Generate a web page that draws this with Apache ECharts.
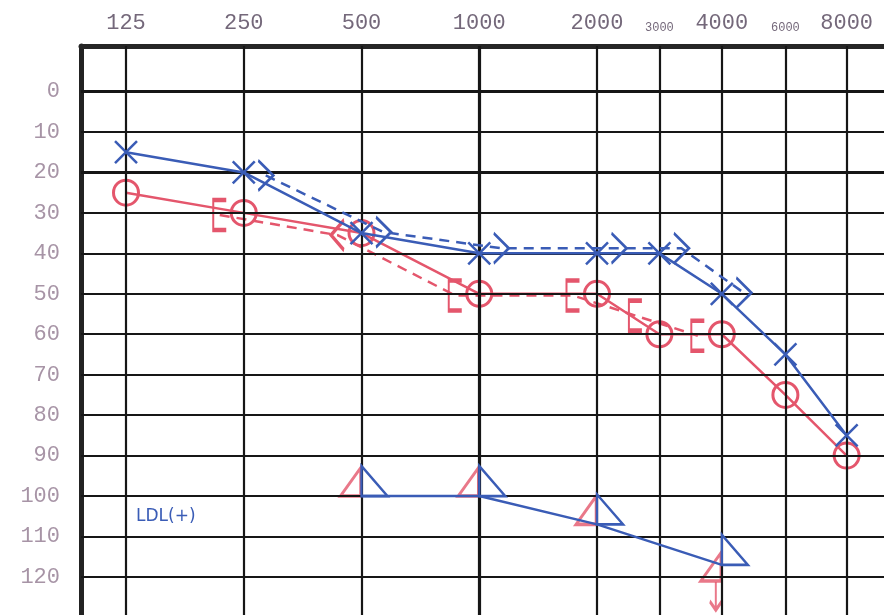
<!DOCTYPE html>
<html><head><meta charset="utf-8">
<script src="https://cdn.jsdelivr.net/npm/echarts@6/dist/echarts.min.js"></script>
<style>html,body{margin:0;padding:0;background:#fff}#c{width:884px;height:615px}</style>
</head><body><div id="c"></div>
<script>
// ---- data ----
const freqLabels  = ['125','250','500','1000','2000','3000','4000','6000','8000'];
const freqPos     = [0, 1, 2, 3, 4, 4.53, 5.06, 5.6, 6.12];  // column positions on the printed form
const smallLabels = ['3000','6000'];
const dbTicks     = [0,10,20,30,40,50,60,70,80,90,100,110,120];
const blueAC      = [15, 20, 35, 40, 40, 40, 50, 65, 85];   // X
const redAC       = [25, 30, 35, 50, 50, 60, 60, 75, 90];   // O
const bcFreqs     = ['250','500','1000','2000','3000','4000'];
const blueBC      = [21, 35, 39, 39, 39, 50];               // >
const redBC       = [30, 35, 50, 50, 55, 60];               // [
const ldlFreqs    = ['500','1000','2000','4000'];
const blueLDL     = [100, 100, 107, 117];
const redLDL      = [100, 100, 107, 121];
const noRespFreqs = ['4000'];
const noRespRed   = [121];

const BLUE = '#3a5cb6', RED = '#e4566c', INK = '#161616';
const pos = f => freqPos[freqLabels.indexOf(f)];
const pts = (freqs, vals) => freqs.map((f, i) => [pos(f), vals[i]]);

// pixel geometry of the form
const GL = 81, GT = 46, W = 803, H = 569;
const XMIN = -0.3822, XMAX = 6.4374, YMIN = -11.25, YMAX = 129.4;
const PXU = W / (XMAX - XMIN);          // pixels per x unit
const SHIFT_B = 22, SHIFT_R = 24;       // symbol offsets of bone-conduction marks

const chart = echarts.init(document.getElementById('c'), null, {renderer: 'canvas'});
const hiddenX = (gi, mn, mx) => ({gridIndex: gi, type: 'value', min: mn, max: mx, show: false});
const hiddenY = gi => ({gridIndex: gi, type: 'value', min: YMIN, max: YMAX, inverse: true, show: false});

const symX = 'path://M0,0L10,10M10,0L0,10';
const symGt = 'path://M0,0L10,5L0,10';
const symLt = 'path://M10,0L0,5L10,10';
const symBr = 'path://M10,0L0,0L0,10L10,10';
const triBlue = 'path://M0,0L0,30L26,30Z';
const triRed = 'path://M20,0L20,28L0,28Z';
const arrow = 'path://M6,0L6,26M0,18L6,26L12,18';

chart.setOption({
  animation: false,
  backgroundColor: '#fff',
  grid: [
    {left: GL, top: GT, width: W, height: H},
    {left: GL + SHIFT_B, top: GT - 1, width: W - SHIFT_B, height: H},
    {left: GL, top: GT + 3, width: W, height: H}
  ],
  xAxis: [
    {gridIndex: 0, type: 'value', position: 'top', min: XMIN, max: XMAX,
     axisLine: {show: true, onZero: false, lineStyle: {color: '#262626', width: 5}},
     axisTick: {show: false}, splitLine: {show: false},
     axisLabel: {customValues: freqPos, margin: 12, color: '#74687a',
       fontFamily: 'Liberation Mono', fontSize: 22,
       formatter: v => {
         const i = freqPos.indexOf(v);
         if (i < 0) return '';
         const t = freqLabels[i];
         return smallLabels.indexOf(t) >= 0 ? '{s|' + t + '}' : t;
       },
       rich: {s: {fontSize: 12, fontFamily: 'Liberation Mono', color: '#74687a', padding: [8, 0, 0, 0]}}
     }},
    hiddenX(1, XMIN, XMAX - SHIFT_B / PXU),
    hiddenX(2, XMIN + SHIFT_R / PXU, XMAX + SHIFT_R / PXU)
  ],
  yAxis: [
    {gridIndex: 0, type: 'value', inverse: true, min: YMIN, max: YMAX,
     axisLine: {show: true, onZero: false, lineStyle: {color: '#222', width: 5}},
     axisTick: {show: false},
     splitLine: {show: false},
     axisLabel: {customValues: dbTicks, margin: 21, color: '#a794a6',
       fontFamily: 'Liberation Mono', fontSize: 22,
       formatter: v => dbTicks.indexOf(v) >= 0 ? String(v) : ''}},
    hiddenY(1), hiddenY(2)
  ],
  graphic: [
    {type: 'text', left: 136, top: 508, style: {text: 'LDL(+)', fill: BLUE, font: '17px "DejaVu Sans"'}}
  ],
  series: [
    {type: 'line', xAxisIndex: 0, yAxisIndex: 0, data: [], silent: true,
     markLine: {silent: true, symbol: 'none', label: {show: false}, animation: false,
       data: freqPos.map(p => ({xAxis: p, lineStyle: {color: INK, type: 'solid', width: p === 3 ? 3.2 : 2.2}}))
         .concat(dbTicks.map(d => ({yAxis: d, lineStyle: {color: INK, type: 'solid', width: (d === 0 || d === 20) ? 3.2 : 2.2}})))}},
    {name: 'blueAC', type: 'line', xAxisIndex: 0, yAxisIndex: 0, z: 5,
     data: pts(freqLabels, blueAC), symbol: symX, symbolSize: 22,
     lineStyle: {color: BLUE, width: 2.5},
     itemStyle: {color: 'none', borderColor: BLUE, borderWidth: 2.5}},
    {name: 'redAC', type: 'line', xAxisIndex: 0, yAxisIndex: 0, z: 4,
     data: pts(freqLabels, redAC), symbol: 'circle', symbolSize: 25,
     lineStyle: {color: RED, width: 2.5},
     itemStyle: {color: 'none', borderColor: RED, borderWidth: 3}},
    {name: 'blueBC', type: 'line', xAxisIndex: 1, yAxisIndex: 1, z: 5,
     data: pts(bcFreqs, blueBC), symbol: symGt, symbolSize: [15, 30],
     lineStyle: {color: BLUE, width: 2.5, type: [10, 7]},
     itemStyle: {color: 'none', borderColor: BLUE, borderWidth: 2.5}},
    {name: 'redBC', type: 'line', xAxisIndex: 2, yAxisIndex: 2, z: 4,
     data: pts(bcFreqs, redBC).map((d, i) => ({value: d, symbol: bcFreqs[i] === '500' ? symLt : symBr})),
     symbolSize: [13, 30],
     lineStyle: {color: RED, width: 2.5, type: [10, 7]},
     itemStyle: {color: 'none', borderColor: RED, borderWidth: 3}},
    {name: 'blueLDL', type: 'line', xAxisIndex: 0, yAxisIndex: 0, z: 5,
     data: pts(ldlFreqs, blueLDL), symbol: triBlue, symbolSize: [26, 30], symbolOffset: [13, -15],
     lineStyle: {color: BLUE, width: 2.5},
     itemStyle: {color: 'none', borderColor: BLUE, borderWidth: 2.5}},
    {name: 'redLDL', type: 'scatter', xAxisIndex: 0, yAxisIndex: 0, z: 4,
     data: pts(ldlFreqs, redLDL), symbol: triRed, symbolSize: [20, 28], symbolOffset: [-11, -14],
     itemStyle: {color: 'none', borderColor: RED, borderWidth: 3}},
    {name: 'redNR', type: 'scatter', xAxisIndex: 0, yAxisIndex: 0, z: 4,
     data: pts(noRespFreqs, noRespRed), symbol: arrow, symbolSize: [12, 28], symbolOffset: [-6, 15],
     itemStyle: {color: 'none', borderColor: RED, borderWidth: 3}}
  ]
});
</script></body></html>
